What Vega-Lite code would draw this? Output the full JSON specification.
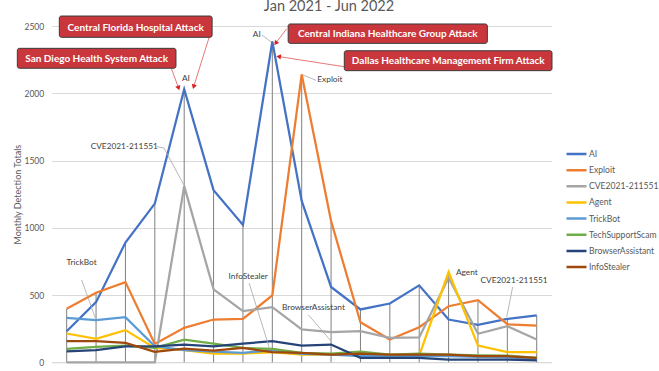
{
  "$schema": "https://vega.github.io/schema/vega-lite/v6.json",
  "width": 500,
  "height": 336.3,
  "autosize": {"type": "none"},
  "padding": {"left": 51.7, "top": 26, "right": 107.3, "bottom": 8.7},
  "background": "white",
  "config": {"view": {"stroke": null}, "font": "Lato"},
  "datasets": {
    "series": [
      {"month": 1, "series": "AI", "value": 231}, {"month": 2, "series": "AI", "value": 447}, {"month": 3, "series": "AI", "value": 890}, {"month": 4, "series": "AI", "value": 1180}, {"month": 5, "series": "AI", "value": 2030}, {"month": 6, "series": "AI", "value": 1280}, {"month": 7, "series": "AI", "value": 1021}, {"month": 8, "series": "AI", "value": 2385}, {"month": 9, "series": "AI", "value": 1200}, {"month": 10, "series": "AI", "value": 560}, {"month": 11, "series": "AI", "value": 393}, {"month": 12, "series": "AI", "value": 437}, {"month": 13, "series": "AI", "value": 572}, {"month": 14, "series": "AI", "value": 318}, {"month": 15, "series": "AI", "value": 279}, {"month": 16, "series": "AI", "value": 323}, {"month": 17, "series": "AI", "value": 348},
      {"month": 1, "series": "Exploit", "value": 398}, {"month": 2, "series": "Exploit", "value": 517}, {"month": 3, "series": "Exploit", "value": 596}, {"month": 4, "series": "Exploit", "value": 137}, {"month": 5, "series": "Exploit", "value": 256}, {"month": 6, "series": "Exploit", "value": 318}, {"month": 7, "series": "Exploit", "value": 323}, {"month": 8, "series": "Exploit", "value": 497}, {"month": 9, "series": "Exploit", "value": 2140}, {"month": 10, "series": "Exploit", "value": 1050}, {"month": 11, "series": "Exploit", "value": 298}, {"month": 12, "series": "Exploit", "value": 169}, {"month": 13, "series": "Exploit", "value": 261}, {"month": 14, "series": "Exploit", "value": 417}, {"month": 15, "series": "Exploit", "value": 462}, {"month": 16, "series": "Exploit", "value": 283}, {"month": 17, "series": "Exploit", "value": 273},
      {"month": 1, "series": "CVE2021-211551", "value": 0}, {"month": 2, "series": "CVE2021-211551", "value": 0}, {"month": 3, "series": "CVE2021-211551", "value": 0}, {"month": 4, "series": "CVE2021-211551", "value": 0}, {"month": 5, "series": "CVE2021-211551", "value": 1310}, {"month": 6, "series": "CVE2021-211551", "value": 542}, {"month": 7, "series": "CVE2021-211551", "value": 380}, {"month": 8, "series": "CVE2021-211551", "value": 410}, {"month": 9, "series": "CVE2021-211551", "value": 244}, {"month": 10, "series": "CVE2021-211551", "value": 224}, {"month": 11, "series": "CVE2021-211551", "value": 231}, {"month": 12, "series": "CVE2021-211551", "value": 182}, {"month": 13, "series": "CVE2021-211551", "value": 186}, {"month": 14, "series": "CVE2021-211551", "value": 629}, {"month": 15, "series": "CVE2021-211551", "value": 212}, {"month": 16, "series": "CVE2021-211551", "value": 268}, {"month": 17, "series": "CVE2021-211551", "value": 169},
      {"month": 1, "series": "Agent", "value": 214}, {"month": 2, "series": "Agent", "value": 174}, {"month": 3, "series": "Agent", "value": 239}, {"month": 4, "series": "Agent", "value": 107}, {"month": 5, "series": "Agent", "value": 90}, {"month": 6, "series": "Agent", "value": 65}, {"month": 7, "series": "Agent", "value": 65}, {"month": 8, "series": "Agent", "value": 75}, {"month": 9, "series": "Agent", "value": 57}, {"month": 10, "series": "Agent", "value": 57}, {"month": 11, "series": "Agent", "value": 57}, {"month": 12, "series": "Agent", "value": 50}, {"month": 13, "series": "Agent", "value": 50}, {"month": 14, "series": "Agent", "value": 671}, {"month": 15, "series": "Agent", "value": 124}, {"month": 16, "series": "Agent", "value": 75}, {"month": 17, "series": "Agent", "value": 75},
      {"month": 1, "series": "TrickBot", "value": 331}, {"month": 2, "series": "TrickBot", "value": 313}, {"month": 3, "series": "TrickBot", "value": 336}, {"month": 4, "series": "TrickBot", "value": 119}, {"month": 5, "series": "TrickBot", "value": 90}, {"month": 6, "series": "TrickBot", "value": 80}, {"month": 7, "series": "TrickBot", "value": 70}, {"month": 8, "series": "TrickBot", "value": 90}, {"month": 9, "series": "TrickBot", "value": 63}, {"month": 10, "series": "TrickBot", "value": 57}, {"month": 11, "series": "TrickBot", "value": 45}, {"month": 12, "series": "TrickBot", "value": 50}, {"month": 13, "series": "TrickBot", "value": 45}, {"month": 14, "series": "TrickBot", "value": 45}, {"month": 15, "series": "TrickBot", "value": 40}, {"month": 16, "series": "TrickBot", "value": 37}, {"month": 17, "series": "TrickBot", "value": 25},
      {"month": 1, "series": "TechSupportScam", "value": 100}, {"month": 2, "series": "TechSupportScam", "value": 115}, {"month": 3, "series": "TechSupportScam", "value": 124}, {"month": 4, "series": "TechSupportScam", "value": 107}, {"month": 5, "series": "TechSupportScam", "value": 169}, {"month": 6, "series": "TechSupportScam", "value": 139}, {"month": 7, "series": "TechSupportScam", "value": 107}, {"month": 8, "series": "TechSupportScam", "value": 100}, {"month": 9, "series": "TechSupportScam", "value": 70}, {"month": 10, "series": "TechSupportScam", "value": 65}, {"month": 11, "series": "TechSupportScam", "value": 80}, {"month": 12, "series": "TechSupportScam", "value": 57}, {"month": 13, "series": "TechSupportScam", "value": 65}, {"month": 14, "series": "TechSupportScam", "value": 57}, {"month": 15, "series": "TechSupportScam", "value": 52}, {"month": 16, "series": "TechSupportScam", "value": 50}, {"month": 17, "series": "TechSupportScam", "value": 33},
      {"month": 1, "series": "BrowserAssistant", "value": 82}, {"month": 2, "series": "BrowserAssistant", "value": 90}, {"month": 3, "series": "BrowserAssistant", "value": 119}, {"month": 4, "series": "BrowserAssistant", "value": 119}, {"month": 5, "series": "BrowserAssistant", "value": 132}, {"month": 6, "series": "BrowserAssistant", "value": 119}, {"month": 7, "series": "BrowserAssistant", "value": 139}, {"month": 8, "series": "BrowserAssistant", "value": 157}, {"month": 9, "series": "BrowserAssistant", "value": 124}, {"month": 10, "series": "BrowserAssistant", "value": 132}, {"month": 11, "series": "BrowserAssistant", "value": 33}, {"month": 12, "series": "BrowserAssistant", "value": 33}, {"month": 13, "series": "BrowserAssistant", "value": 33}, {"month": 14, "series": "BrowserAssistant", "value": 20}, {"month": 15, "series": "BrowserAssistant", "value": 20}, {"month": 16, "series": "BrowserAssistant", "value": 20}, {"month": 17, "series": "BrowserAssistant", "value": 15},
      {"month": 1, "series": "InfoStealer", "value": 157}, {"month": 2, "series": "InfoStealer", "value": 157}, {"month": 3, "series": "InfoStealer", "value": 144}, {"month": 4, "series": "InfoStealer", "value": 77}, {"month": 5, "series": "InfoStealer", "value": 102}, {"month": 6, "series": "InfoStealer", "value": 87}, {"month": 7, "series": "InfoStealer", "value": 107}, {"month": 8, "series": "InfoStealer", "value": 75}, {"month": 9, "series": "InfoStealer", "value": 70}, {"month": 10, "series": "InfoStealer", "value": 57}, {"month": 11, "series": "InfoStealer", "value": 65}, {"month": 12, "series": "InfoStealer", "value": 57}, {"month": 13, "series": "InfoStealer", "value": 57}, {"month": 14, "series": "InfoStealer", "value": 57}, {"month": 15, "series": "InfoStealer", "value": 45}, {"month": 16, "series": "InfoStealer", "value": 45}, {"month": 17, "series": "InfoStealer", "value": 33}
    ],
    "titles": [
      {"text": "Jan 2021 - Jun 2022", "i": 9.93, "v": 2614}
    ],
    "labels": [
      {"text": "AI", "i": 5.06, "v": 2108},
      {"text": "AI", "i": 7.47, "v": 2433},
      {"text": "Exploit", "i": 9.96, "v": 2096},
      {"text": "CVE2021-211551", "i": 2.96, "v": 1603},
      {"text": "TrickBot", "i": 1.51, "v": 736},
      {"text": "InfoStealer", "i": 7.18, "v": 636},
      {"text": "BrowserAssistant", "i": 9.4, "v": 406},
      {"text": "Agent", "i": 14.62, "v": 662},
      {"text": "CVE2021-211551", "i": 16.23, "v": 604}
    ],
    "leaders": [
      {"i": 7.65, "v": 2433, "i2": 7.96, "v2": 2381},
      {"i": 9.04, "v": 2136, "i2": 9.49, "v2": 2096},
      {"i": 4.07, "v": 1603, "i2": 4.31, "v2": 1593},
      {"i": 4.31, "v": 1593, "i2": 4.99, "v2": 1318},
      {"i": 1.51, "v": 612, "i2": 2.0, "v2": 314},
      {"i": 7.21, "v": 589, "i2": 7.92, "v2": 92},
      {"i": 9.23, "v": 352, "i2": 9.99, "v2": 160},
      {"i": 16.18, "v": 560, "i2": 15.98, "v2": 337}
    ],
    "arrows": [
      {"name": "SD", "i": 4.57, "v": 2180, "i2": 4.8, "v2": 2044},
      {"name": "CFH", "i": 5.85, "v": 2416, "i2": 5.33, "v2": 2054},
      {"name": "CI", "i": 8.49, "v": 2480, "i2": 8.13, "v2": 2376},
      {"name": "DAL", "i": 10.45, "v": 2197, "i2": 8.24, "v2": 2272}
    ],
    "callouts": [
      {"text": "Central Florida Hospital Attack", "i0": 0.75, "i1": 5.95, "v0": 2416, "v1": 2574, "ic": 3.35, "vc": 2487},
      {"text": "San Diego Health System Attack", "i0": -0.68, "i1": 4.72, "v0": 2186, "v1": 2334, "ic": 2.02, "vc": 2251},
      {"text": "Central Indiana Healthcare Group Attack", "i0": 8.54, "i1": 15.32, "v0": 2371, "v1": 2515, "ic": 11.93, "vc": 2438},
      {"text": "Dallas Healthcare Management Firm Attack", "i0": 10.45, "i1": 17.52, "v0": 2168, "v1": 2316, "ic": 13.99, "vc": 2240}
    ]
  },
  "layer": [
    {
      "data": {"name": "series"},
      "transform": [{"aggregate": [{"op": "max", "field": "value", "as": "maxv"}], "groupby": ["month"]}],
      "mark": {"type": "rule", "color": "#7F7F7F", "strokeWidth": 1},
      "encoding": {
        "x": {"field": "month", "type": "quantitative", "scale": {"domain": [0.49, 17.51], "nice": false, "zero": false},
              "axis": {"title": null, "labels": false, "ticks": false, "grid": false, "domainColor": "#D9D9D9"}},
        "y": {"field": "maxv", "type": "quantitative", "scale": {"domain": [0, 2500], "nice": false},
              "axis": {"title": "Monthly Detection Totals", "values": [0, 500, 1000, 1500, 2000, 2500], "format": "d", "grid": true, "gridColor": "#D9D9D9", "ticks": false, "domain": false, "labelColor": "#595959", "labelFontSize": 8.5, "labelPadding": 8, "titleFontSize": 9, "titleFontWeight": "normal", "titleColor": "#595959", "titlePadding": 1}},
        "y2": {"datum": 0}
      }
    },
    {
      "data": {"name": "series"},
      "mark": {"type": "line", "strokeWidth": 2.25},
      "encoding": {
        "x": {"field": "month", "type": "quantitative"},
        "y": {"field": "value", "type": "quantitative"},
        "color": {"field": "series", "type": "nominal",
                  "scale": {"domain": ["AI", "Exploit", "CVE2021-211551", "Agent", "TrickBot", "TechSupportScam", "BrowserAssistant", "InfoStealer"],
                            "range": ["#4472C4", "#ED7D31", "#A5A5A5", "#FFC000", "#5B9BD5", "#70AD47", "#264478", "#9E480E"]},
                  "legend": {"orient": "none", "legendX": 513.3, "legendY": 122, "title": null, "symbolType": "stroke", "symbolSize": 400, "symbolStrokeWidth": 2.5, "labelFontSize": 8.6, "labelColor": "#595959", "clipHeight": 12, "rowPadding": 4.15, "labelOffset": 1, "labelFont": "Lato", "labelLimit": 200}}
      }
    },
    {
      "data": {"name": "leaders"},
      "mark": {"type": "rule", "color": "#A6A6A6", "strokeWidth": 0.8},
      "encoding": {
        "x": {"field": "i", "type": "quantitative"}, "x2": {"field": "i2"},
        "y": {"field": "v", "type": "quantitative"}, "y2": {"field": "v2"}
      }
    },
    {
      "data": {"name": "labels"},
      "mark": {"type": "text", "fontSize": 8.3, "color": "#404040", "align": "center", "baseline": "middle"},
      "encoding": {
        "x": {"field": "i", "type": "quantitative"},
        "y": {"field": "v", "type": "quantitative"},
        "text": {"field": "text"}
      }
    },
    {
      "data": {"name": "titles"},
      "mark": {"type": "text", "fontSize": 14.5, "color": "#595959", "align": "center", "baseline": "alphabetic", "clip": false},
      "encoding": {
        "x": {"field": "i", "type": "quantitative"},
        "y": {"field": "v", "type": "quantitative"},
        "text": {"field": "text"}
      }
    },
    {
      "data": {"name": "arrows"},
      "mark": {"type": "rule", "color": "#E05555", "strokeWidth": 0.8},
      "encoding": {
        "x": {"field": "i", "type": "quantitative"}, "x2": {"field": "i2"},
        "y": {"field": "v", "type": "quantitative"}, "y2": {"field": "v2"}
      }
    },
    {
      "data": {"name": "arrows"},
      "transform": [{"filter": "datum.name === 'SD'"}],
      "mark": {"type": "point", "shape": "triangle", "filled": true, "size": 28, "color": "#D92020", "opacity": 1, "angle": 160},
      "encoding": {"x": {"field": "i2", "type": "quantitative"}, "y": {"field": "v2", "type": "quantitative"}}
    },
    {
      "data": {"name": "arrows"},
      "transform": [{"filter": "datum.name === 'CFH'"}],
      "mark": {"type": "point", "shape": "triangle", "filled": true, "size": 28, "color": "#D92020", "opacity": 1, "angle": 197},
      "encoding": {"x": {"field": "i2", "type": "quantitative"}, "y": {"field": "v2", "type": "quantitative"}}
    },
    {
      "data": {"name": "arrows"},
      "transform": [{"filter": "datum.name === 'CI'"}],
      "mark": {"type": "point", "shape": "triangle", "filled": true, "size": 28, "color": "#D92020", "opacity": 1, "angle": 217},
      "encoding": {"x": {"field": "i2", "type": "quantitative"}, "y": {"field": "v2", "type": "quantitative"}}
    },
    {
      "data": {"name": "arrows"},
      "transform": [{"filter": "datum.name === 'DAL'"}],
      "mark": {"type": "point", "shape": "triangle", "filled": true, "size": 28, "color": "#D92020", "opacity": 1, "angle": 279},
      "encoding": {"x": {"field": "i2", "type": "quantitative"}, "y": {"field": "v2", "type": "quantitative"}}
    },
    {
      "data": {"name": "callouts"},
      "mark": {"type": "rect", "fill": "#C9373C", "stroke": "#3A3A3A", "strokeWidth": 1, "cornerRadius": 2, "clip": false},
      "encoding": {
        "x": {"field": "i0", "type": "quantitative"}, "x2": {"field": "i1"},
        "y": {"field": "v0", "type": "quantitative"}, "y2": {"field": "v1"}
      }
    },
    {
      "data": {"name": "callouts"},
      "mark": {"type": "text", "fontSize": 10, "fontWeight": "bold", "color": "white", "align": "center", "baseline": "middle", "font": "Lato"},
      "encoding": {
        "x": {"field": "ic", "type": "quantitative"},
        "y": {"field": "vc", "type": "quantitative"},
        "text": {"field": "text"}
      }
    }
  ]
}
